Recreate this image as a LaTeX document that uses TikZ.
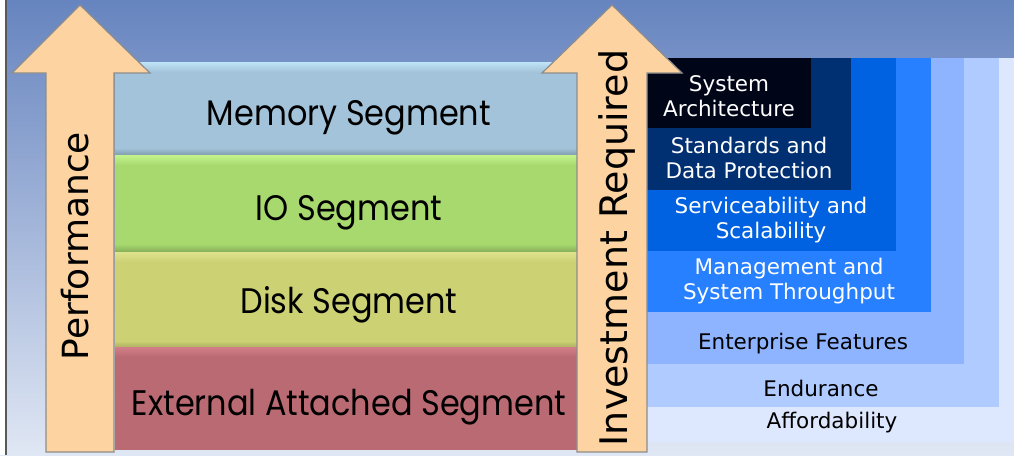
\documentclass[tikz,border=0pt]{standalone}
\usepackage{fontspec}
\setmainfont{DejaVu Sans}
\newfontfamily\segfont[FakeStretch=0.9]{Poppins}
\usetikzlibrary{calc}

\definecolor{bgtop}{HTML}{6684BF}
\definecolor{bgbot}{HTML}{E0E7F4}
\definecolor{arrowfill}{HTML}{FDD4A1}
\definecolor{arrowedge}{HTML}{8D8D8D}
\definecolor{mem}{HTML}{A2C3D9}
\definecolor{memhi}{HTML}{BFE3F7}
\definecolor{io}{HTML}{A7D96F}
\definecolor{iohi}{HTML}{C4F38C}
\definecolor{disk}{HTML}{CCD174}
\definecolor{diskhi}{HTML}{DEE38C}
\definecolor{ext}{HTML}{BA6A72}
\definecolor{exthi}{HTML}{D27E88}
\definecolor{sysarch}{HTML}{000518}
\definecolor{standards}{HTML}{002F72}
\definecolor{service}{HTML}{0062E0}
\definecolor{manage}{HTML}{2680FF}
\definecolor{enterprise}{HTML}{8FB4FF}
\definecolor{endurance}{HTML}{B0CBFF}
\definecolor{afford}{HTML}{DDE8FF}

\tikzset{
  arrowbody/.style={fill=arrowfill, draw=arrowedge, line width=1.2pt, line join=miter},
  seglabel/.style={anchor=base, font=\segfont\fontsize{35.5}{35.5}\selectfont},
  steplabel/.style={align=center, font=\fontsize{21.5}{25}\selectfont},
  axislabel/.style={anchor=base, rotate=90}
}

\begin{document}
\begin{tikzpicture}[x=1pt, y=-1pt]
		%%%%% START %%%%%
		\useasboundingbox (0, 0) rectangle (1014, 455);
		
		% background
		\shade[top color=bgtop, bottom color=bgbot] (0, 0) rectangle (1014, 455);
		\fill[white] (0, 0) rectangle (5, 455);
		\draw[line width=1.5pt, color=black!65] (6, 0) -- (6, 455);
		
		% staircase, largest first
		\fill[afford] (647, 58) rectangle (1014, 442);
		\fill[endurance] (647, 58) rectangle (999, 407);
		\fill[enterprise] (647, 58) rectangle (964, 364);
		\fill[manage] (647, 58) rectangle (931, 312);
		\fill[service] (647, 58) rectangle (896, 251);
		\fill[standards] (647, 58) rectangle (851, 190);
		\fill[sysarch] (647, 58) rectangle (811, 128);
		
		% segments
		\fill[mem] (115, 62) rectangle (577, 155);
		\shade[top color=memhi, bottom color=mem] (115, 62) rectangle (577, 72);
		\shade[top color=mem, bottom color=mem!80!black] (115, 148) rectangle (577, 155);
		
		\fill[io] (115, 155) rectangle (577, 252);
		\shade[top color=iohi, bottom color=io] (115, 155) rectangle (577, 165);
		\shade[top color=io, bottom color=io!80!black] (115, 244) rectangle (577, 252);
		
		\fill[disk] (115, 252) rectangle (577, 347);
		\shade[top color=diskhi, bottom color=disk] (115, 252) rectangle (577, 262);
		\shade[top color=disk, bottom color=disk!85!black] (115, 341) rectangle (577, 347);
		
		\fill[ext] (115, 347) rectangle (577, 450);
		\shade[top color=exthi, bottom color=ext] (115, 347) rectangle (577, 357);
		
		% arrows
		\draw[arrowbody] (46, 452) -- (46, 73) -- (12, 73) -- (80, 5) -- (150, 73) -- (114, 73) -- (114, 452) -- cycle;
		\draw[arrowbody] (577, 452) -- (577, 73) -- (542, 73) -- (612, 5) -- (682, 73) -- (647, 73) -- (647, 452) -- cycle;
		
		% labels
		\node[axislabel, font=\fontsize{36}{36}\selectfont] (perf) at (88, 246) {Performance};
		\node[axislabel, font=\fontsize{38}{38}\selectfont] (invest) at (627, 248) {Investment Required};
		
		\node[seglabel] (memseg) at (349, 125) {Memory Segment};
		\node[seglabel] (ioseg) at (349, 220) {IO Segment};
		\node[seglabel] (diskseg) at (349, 313) {Disk Segment};
		\node[seglabel] (extseg) at (349, 415) {External Attached Segment};
		
		\node[steplabel, text=white] (sysarchlbl) at (729, 96) {System\\Architecture};
		\node[steplabel, text=white] (standardslbl) at (749, 158) {Standards and\\Data Protection};
		\node[steplabel, text=white] (servicelbl) at (771, 220) {Serviceability and\\Scalability};
		\node[steplabel, text=white] (managelbl) at (789, 281) {Management and\\System Throughput};
		\node[steplabel] (enterpriselbl) at (803, 344) {Enterprise Features};
		\node[steplabel] (endurancelbl) at (821, 388) {Endurance};
		\node[steplabel] (affordlbl) at (832, 423) {Affordability};
		
		%%%%% END %%%%%
	\end{tikzpicture}
\end{document}
